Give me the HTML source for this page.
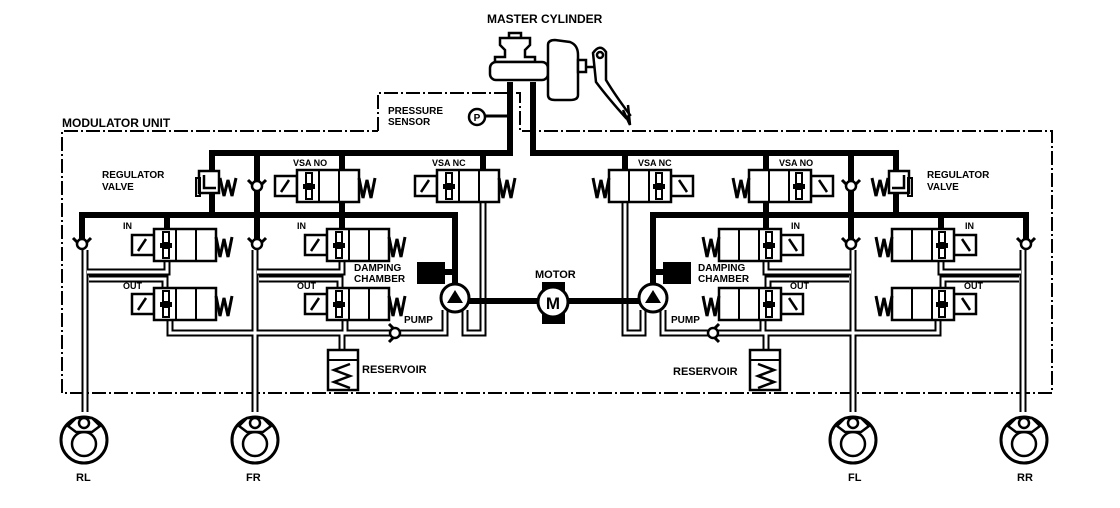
<!DOCTYPE html>
<html><head><meta charset="utf-8"><style>
html,body{margin:0;padding:0;background:#fff;}
svg{display:block;}
text{font-family:"Liberation Sans",sans-serif;font-weight:bold;fill:#000;}
</style></head><body>
<svg width="1120" height="508" viewBox="0 0 1120 508" xmlns="http://www.w3.org/2000/svg">
<defs>
<g id="valve">
  <rect x="0" y="6" width="22" height="20" fill="#fff" stroke="#000" stroke-width="2.5"/>
  <line x1="6" y1="22" x2="14" y2="10" stroke="#000" stroke-width="2.5"/>
  <rect x="22" y="0" width="62" height="32" fill="#fff" stroke="#000" stroke-width="2.5"/>
  <line x1="44" y1="0" x2="44" y2="32" stroke="#000" stroke-width="2"/>
  <line x1="64" y1="0" x2="64" y2="32" stroke="#000" stroke-width="2"/>
  <rect x="28" y="14" width="12" height="5" fill="#000"/>
  <rect x="31" y="3" width="6" height="11" fill="#fff" stroke="#000" stroke-width="2"/>
  <rect x="31" y="19" width="6" height="10" fill="#fff" stroke="#000" stroke-width="2"/>
  <polyline points="84,8 88,28 92,10 96,28 100,8" fill="none" stroke="#000" stroke-width="3"/>
</g>
<g id="check">
  <polyline points="-9,-6 0,3 9,-6" fill="none" stroke="#000" stroke-width="3"/>
  <circle cx="0" cy="0" r="5" fill="#fff" stroke="#000" stroke-width="2.5"/>
</g>
<g id="wheel">
  <circle cx="0" cy="0" r="23" fill="#fff" stroke="#000" stroke-width="3"/>
  <circle cx="0" cy="4" r="12" fill="#fff" stroke="#000" stroke-width="2.5"/>
  <path d="M-16,-14 L-8,-22 L8,-22 L16,-14 L8,-8 L-8,-8 Z" fill="#fff" stroke="#000" stroke-width="2.5"/>
  <circle cx="0" cy="-17" r="5" fill="#fff" stroke="#000" stroke-width="2.5"/>
</g>
<g id="ret" fill="none" stroke-linejoin="miter">
  <path d="M85,250 V412"/>
  <path d="M255,250 V412"/>
  <path d="M87,272 H167 V258"/>
  <path d="M89,279 H165 V292"/>
  <path d="M257,272 H342 V258"/>
  <path d="M259,279 H340 V292"/>
  <path d="M170,320 V333 H445 V310"/>
  <path d="M345,320 V333"/>
  <path d="M342,333 V350"/>
  <path d="M483,200 V333 H465 V310"/>
</g>
<g id="L">
  <use href="#ret" stroke="#000" stroke-width="7"/>
  <use href="#ret" stroke="#fff" stroke-width="3"/>
  <g fill="none" stroke="#000" stroke-width="6" stroke-linejoin="miter">
    <path d="M212,153 V215"/>
    <path d="M82,240 V215 H455 V290"/>
    <path d="M257,153 V244"/>
    <path d="M342,153 V180"/>
    <path d="M342,200 V245"/>
    <path d="M167,215 V245"/>
    <path d="M483,153 V185"/>
    <path d="M469,301 H540"/>
    <path d="M445,272 H455"/>
  </g>
  <rect x="199" y="171" width="20" height="22" fill="#fff" stroke="#000" stroke-width="2.5"/>
  <polyline points="204,175 204,188 216,188" fill="none" stroke="#000" stroke-width="2.5"/>
  <rect x="196" y="178" width="4" height="18" fill="none" stroke="#000" stroke-width="2"/>
  <polyline points="220,178 224,196 228,180 232,196 236,178" fill="none" stroke="#000" stroke-width="3"/>
  <use href="#check" transform="translate(257,186)"/>
  <use href="#valve" transform="translate(275,170)"/>
  <use href="#valve" transform="translate(415,170)"/>
  <use href="#valve" transform="translate(132,229)"/>
  <use href="#valve" transform="translate(132,288)"/>
  <use href="#valve" transform="translate(305,229)"/>
  <use href="#valve" transform="translate(305,288)"/>
  <use href="#check" transform="translate(82,244)"/>
  <use href="#check" transform="translate(257,244)"/>
  <g transform="translate(395,333) rotate(-90)"><use href="#check"/></g>
  <rect x="417" y="262" width="28" height="22" fill="#000"/>
  <circle cx="455" cy="298" r="14" fill="#fff" stroke="#000" stroke-width="3"/>
  <polygon points="447,303 463,303 455,290" fill="#000"/>
  <rect x="328" y="350" width="30" height="40" fill="#fff" stroke="#000" stroke-width="2.5"/>
  <line x1="328" y1="360" x2="358" y2="360" stroke="#000" stroke-width="2"/>
  <polyline points="350,364 334,370 350,376 334,382 350,388" fill="none" stroke="#000" stroke-width="2.5"/>
  <use href="#wheel" transform="translate(84,440)"/>
  <use href="#wheel" transform="translate(255,440)"/>
</g>
</defs>

<g fill="none" stroke="#000" stroke-width="2" stroke-dasharray="14,3,2,3">
  <path d="M62,393 V131 H378"/>
  <path d="M522,131 H1052 V393 H62"/>
  <path d="M378,131 V93 H520 V131"/>
</g>

<use href="#L"/>
<use href="#L" transform="translate(1108,0) scale(-1,1)"/>

<!-- master cylinder outlet pipes -->
<g fill="none" stroke="#000" stroke-width="6" stroke-linejoin="miter">
  <path d="M510,82 V153 H209"/>
  <path d="M533,82 V153 H899"/>
</g>

<rect x="542" y="282" width="23" height="42" fill="#000"/>
<circle cx="553" cy="302" r="15" fill="#fff" stroke="#000" stroke-width="3"/>
<text x="553" y="309" font-size="17" text-anchor="middle">M</text>

<line x1="485" y1="116" x2="507" y2="116" stroke="#000" stroke-width="3"/>
<circle cx="477" cy="117" r="8" fill="#fff" stroke="#000" stroke-width="2.5"/>
<text x="477" y="121" font-size="10" text-anchor="middle">P</text>

<g stroke="#000" stroke-width="2.5" fill="#fff">
  <rect x="509" y="33" width="12" height="5"/>
  <path d="M500,38 H530 V45 L525,50 V57 H535 V62 H495 V57 H505 V50 L500,45 Z"/>
  <rect x="490" y="62" width="58" height="18" rx="6"/>
  <path d="M548,45 Q548,40 555,40 L570,42 Q578,45 578,55 V95 Q578,100 570,100 H555 Q548,100 548,95 Z"/>
  <rect x="578" y="60" width="8" height="12"/>
  <line x1="586" y1="67" x2="598" y2="67"/>
  <path d="M593,53 Q600,43 606,52 L606,80 Q615,95 630,115 L626,118 Q608,98 596,82 Z" fill="#fff"/>
  <circle cx="600" cy="55" r="3"/>
</g>
<polyline points="623,110 630,125 628,105" fill="none" stroke="#000" stroke-width="2.5"/>

<g font-size="11">
<text x="487" y="23" font-size="12">MASTER CYLINDER</text>
<text x="62" y="127" font-size="12">MODULATOR UNIT</text>
<text x="388" y="114" font-size="10">PRESSURE</text>
<text x="388" y="125" font-size="10">SENSOR</text>
<text x="102" y="178" font-size="10">REGULATOR</text>
<text x="102" y="190" font-size="10">VALVE</text>
<text x="927" y="178" font-size="10">REGULATOR</text>
<text x="927" y="190" font-size="10">VALVE</text>
<text x="293" y="166" font-size="9">VSA NO</text>
<text x="432" y="166" font-size="9">VSA NC</text>
<text x="638" y="166" font-size="9">VSA NC</text>
<text x="779" y="166" font-size="9">VSA NO</text>
<text x="123" y="229" font-size="9">IN</text>
<text x="297" y="229" font-size="9">IN</text>
<text x="791" y="229" font-size="9">IN</text>
<text x="965" y="229" font-size="9">IN</text>
<text x="123" y="289" font-size="9">OUT</text>
<text x="297" y="289" font-size="9">OUT</text>
<text x="790" y="289" font-size="9">OUT</text>
<text x="964" y="289" font-size="9">OUT</text>
<text x="354" y="271" font-size="10">DAMPING</text>
<text x="354" y="282" font-size="10">CHAMBER</text>
<text x="698" y="271" font-size="10">DAMPING</text>
<text x="698" y="282" font-size="10">CHAMBER</text>
<text x="404" y="323" font-size="10">PUMP</text>
<text x="671" y="323" font-size="10">PUMP</text>
<text x="362" y="373" font-size="11">RESERVOIR</text>
<text x="673" y="375" font-size="11">RESERVOIR</text>
<text x="535" y="278" font-size="11">MOTOR</text>
<text x="76" y="481" font-size="11">RL</text>
<text x="246" y="481" font-size="11">FR</text>
<text x="848" y="481" font-size="11">FL</text>
<text x="1017" y="481" font-size="11">RR</text>
</g>
</svg>
</body></html>
